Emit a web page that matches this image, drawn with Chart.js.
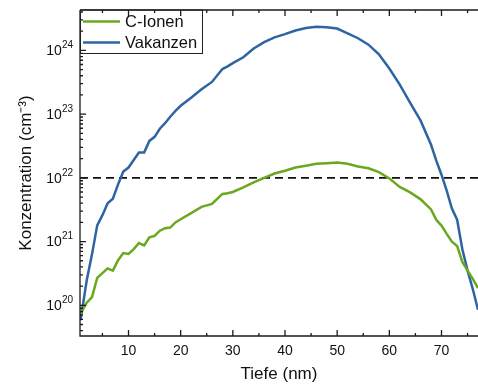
<!DOCTYPE html>
<html>
<head>
<meta charset="utf-8">
<script src="https://cdn.jsdelivr.net/npm/chart.js@4.4.1/dist/chart.umd.min.js"></script>
<style>
  body { margin: 0; background: #fff; }
  canvas { display: block; }
</style>
</head>
<body>
<canvas id="tiefeChart" width="478" height="385"></canvas>
<script>
// Tiefe in nm
const depth = [0.8, 2, 3, 4, 5, 6, 7, 8, 9, 10, 11, 12, 13, 14, 15, 16, 17, 18, 19, 20,
  22, 24, 26, 28, 29, 30, 32, 34, 36, 38, 40, 42, 44, 46, 48, 50, 52, 54, 56, 58,
  60, 62, 64, 66, 68, 69, 70, 71, 72, 73, 74, 75, 76, 77];

// Konzentration in cm^-3
const cIonen = [7.4e19, 1.1e20, 1.35e20, 2.7e20, 3.2e20, 3.8e20, 3.5e20, 5.1e20, 6.6e20, 6.4e20,
  7.6e20, 9.5e20, 8.7e20, 1.17e21, 1.23e21, 1.48e21, 1.62e21, 1.66e21, 2.0e21, 2.24e21,
  2.8e21, 3.5e21, 3.9e21, 5.6e21, 5.75e21, 6.0e21, 7.1e21, 8.5e21, 1.0e22, 1.17e22,
  1.29e22, 1.45e22, 1.55e22, 1.66e22, 1.7e22, 1.74e22, 1.66e22, 1.51e22, 1.41e22, 1.23e22,
  9.8e21, 7.2e21, 5.9e21, 4.6e21, 3.2e21, 2.2e21, 1.78e21, 1.32e21, 1.0e21, 8.5e20,
  4.8e20, 3.5e20, 2.6e20, 1.86e20];

const vakanzen = [5.8e19, 2.5e20, 6.3e20, 1.8e21, 2.6e21, 4.0e21, 4.7e21, 7.9e21, 1.26e22, 1.45e22,
  1.9e22, 2.5e22, 2.5e22, 3.8e22, 4.4e22, 5.9e22, 7.2e22, 9.1e22, 1.12e23, 1.35e23,
  1.8e23, 2.45e23, 3.2e23, 5.1e23, 5.6e23, 6.3e23, 7.8e23, 1.07e24, 1.35e24, 1.6e24,
  1.8e24, 2.05e24, 2.25e24, 2.35e24, 2.3e24, 2.2e24, 1.85e24, 1.55e24, 1.23e24, 8.7e23,
  5.2e23, 2.9e23, 1.5e23, 7.9e22, 3.3e22, 1.86e22, 1.12e22, 6.3e21, 3.3e21, 2.2e21,
  7.6e20, 3.5e20, 1.8e20, 8.5e19];

const schwelle = 1e22;           // gestrichelte Linie
const xTicks = [10, 20, 30, 40, 50, 60, 70];
const xMinorTicks = [5, 15, 25, 35, 45, 55, 65, 75];
const yExponents = [20, 21, 22, 23, 24];

const xMin = 0.7, xMax = 77;
const yMin = 3.3e19, yMax = 4.3e24;

const GRUEN = '#6aa81f';
const BLAU = '#2f64a3';
const FONT = 'Arial, "Liberation Sans", Helvetica, sans-serif';

const toPoints = vals => depth.map((d, i) => ({ x: d, y: vals[i] }));

// Achsen, Ticks, Exponenten-Labels und Legende selbst zeichnen (Origin-Stil)
const achsenPlugin = {
  id: 'achsen',
  afterDraw(chart) {
    const ctx = chart.ctx;
    const xs = chart.scales.x, ys = chart.scales.y;
    const a = chart.chartArea;
    ctx.save();
    ctx.strokeStyle = '#1a1a1a';
    ctx.lineWidth = 1.3;
    ctx.beginPath();
    ctx.moveTo(a.left, a.top); ctx.lineTo(a.right + 2, a.top);
    ctx.moveTo(a.left, a.top); ctx.lineTo(a.left, a.bottom);
    ctx.moveTo(a.left - 0.6, a.bottom); ctx.lineTo(a.right + 2, a.bottom);
    // x-Ticks unten und oben, nach innen
    xTicks.forEach(v => {
      const px = xs.getPixelForValue(v);
      ctx.moveTo(px, a.bottom); ctx.lineTo(px, a.bottom - 6);
      ctx.moveTo(px, a.top); ctx.lineTo(px, a.top + 6);
    });
    xMinorTicks.forEach(v => {
      const px = xs.getPixelForValue(v);
      ctx.moveTo(px, a.bottom); ctx.lineTo(px, a.bottom - 3);
      ctx.moveTo(px, a.top); ctx.lineTo(px, a.top + 3);
    });
    // y-Ticks links, log-Nebenticks 2..9
    for (let e = 19; e <= 24; e++) {
      for (let k = 1; k <= 9; k++) {
        const v = k * Math.pow(10, e);
        if (v < yMin || v > yMax) continue;
        const py = ys.getPixelForValue(v);
        ctx.moveTo(a.left, py); ctx.lineTo(a.left + (k === 1 ? 6 : 3), py);
      }
    }
    ctx.stroke();

    // y-Labels 10^n
    ctx.fillStyle = '#111';
    ctx.textBaseline = 'middle';
    yExponents.forEach(e => {
      const py = ys.getPixelForValue(Math.pow(10, e));
      ctx.font = '10px ' + FONT;
      const expW = ctx.measureText(String(e)).width;
      const right = a.left - 7;
      ctx.textAlign = 'left';
      ctx.fillText(String(e), right - expW, py - 5);
      ctx.font = '14px ' + FONT;
      ctx.textAlign = 'right';
      ctx.fillText('10', right - expW, py + 1);
    });

    // Legende
    const lx = a.left, ly = a.top;
    ctx.strokeStyle = '#222';
    ctx.lineWidth = 1;
    ctx.strokeRect(lx + 0.5, ly, 122, 43.5);
    ctx.font = '16.5px ' + FONT;
    ctx.textAlign = 'left';
    chart.data.datasets.slice(0, 2).forEach((ds, i) => {
      const yy = ly + 11.5 + i * 21;
      ctx.strokeStyle = ds.borderColor;
      ctx.lineWidth = 2.5;
      ctx.beginPath();
      ctx.moveTo(lx + 3, yy); ctx.lineTo(lx + 40, yy);
      ctx.stroke();
      ctx.fillStyle = '#111';
      ctx.fillText(ds.label, lx + 45, yy + 1);
    });
    ctx.restore();
  }
};

new Chart(document.getElementById('tiefeChart'), {
  type: 'line',
  data: {
    datasets: [
      {
        label: 'C-Ionen',
        data: toPoints(cIonen),
        borderColor: GRUEN,
        borderWidth: 2.5,
        pointRadius: 0,
        tension: 0
      },
      {
        label: 'Vakanzen',
        data: toPoints(vakanzen),
        borderColor: BLAU,
        borderWidth: 2.5,
        pointRadius: 0,
        tension: 0
      },
      {
        label: 'Schwelle',
        data: [{ x: xMin, y: schwelle }, { x: xMax, y: schwelle }],
        borderColor: '#111',
        borderWidth: 1.8,
        borderDash: [8, 5],
        pointRadius: 0
      }
    ]
  },
  options: {
    responsive: false,
    animation: false,
    devicePixelRatio: 1,
    layout: { padding: { top: 10, right: 0, left: 0, bottom: 0 } },
    plugins: {
      legend: { display: false },
      tooltip: { enabled: false }
    },
    scales: {
      x: {
        type: 'linear',
        min: xMin,
        max: xMax,
        grid: { display: false, drawTicks: false },
        border: { display: false },
        ticks: {
          stepSize: 10,
          autoSkip: false,
          maxRotation: 0,
          padding: 7,
          color: '#111',
          font: { family: FONT, size: 14 },
          callback: v => (v % 10 === 0 && v > 0) ? v : ''
        },
        title: {
          display: true,
          text: 'Tiefe (nm)',
          color: '#111',
          font: { family: FONT, size: 17 },
          padding: { top: 0, bottom: 0 }
        },
        afterFit: s => { s.height = 49; s.paddingLeft = 0; s.paddingRight = 0; }
      },
      y: {
        type: 'logarithmic',
        min: yMin,
        max: yMax,
        grid: { display: false, drawTicks: false },
        border: { display: false },
        ticks: { display: false },
        title: {
          display: true,
          text: 'Konzentration (cm⁻³)',
          color: '#111',
          font: { family: FONT, size: 17 },
          padding: { top: 16, bottom: 0 }
        },
        afterFit: s => { s.width = 80; s.paddingTop = 0; s.paddingBottom = 0; }
      }
    }
  },
  plugins: [achsenPlugin]
});
</script>
</body>
</html>
